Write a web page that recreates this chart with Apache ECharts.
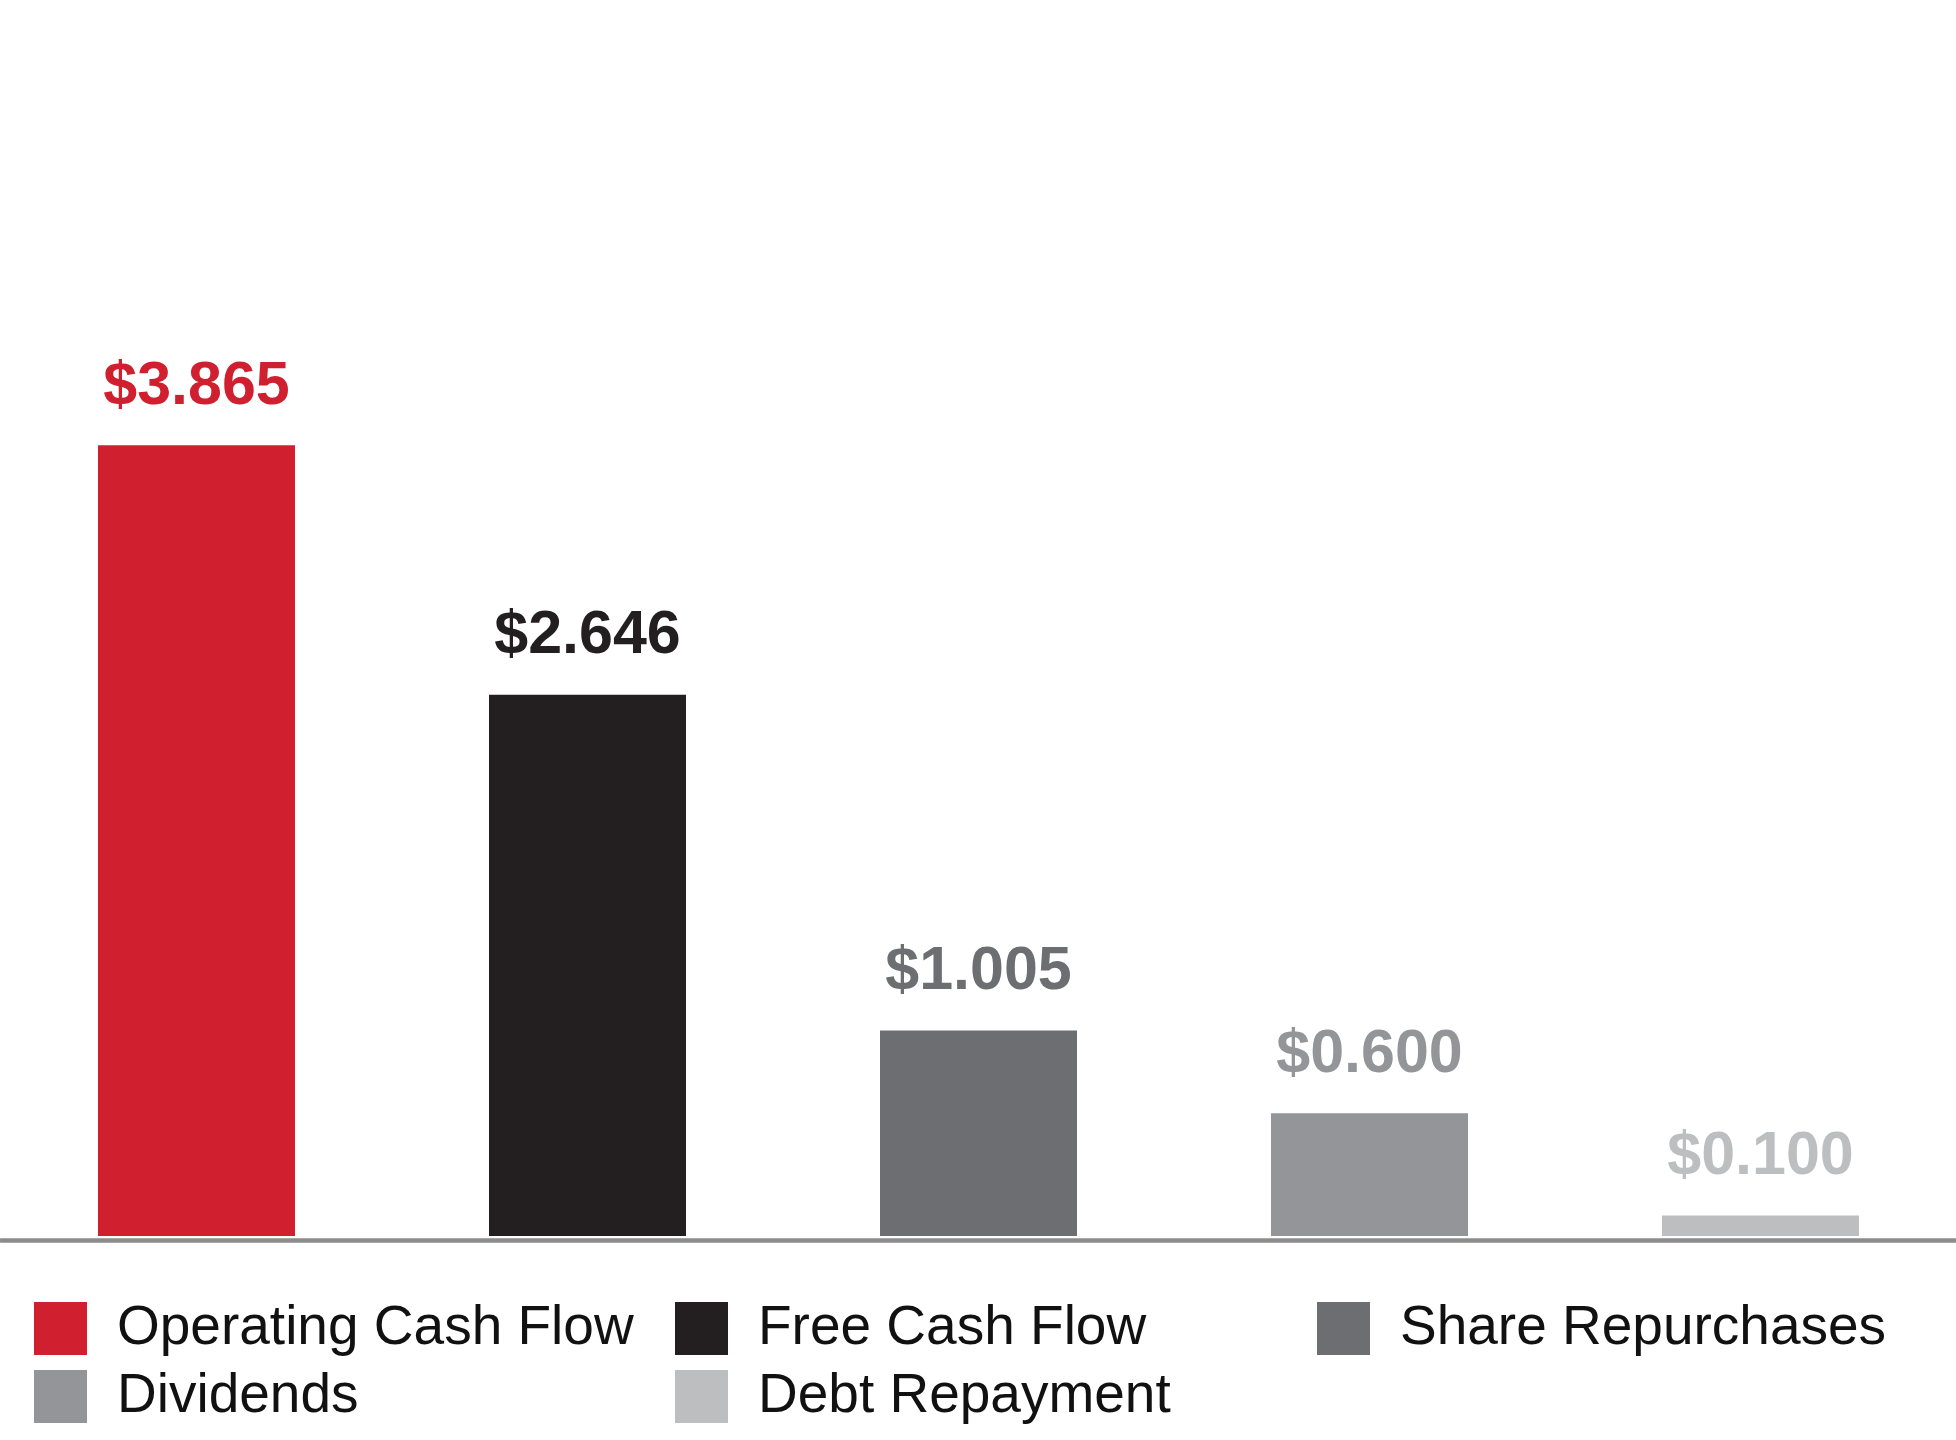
<!DOCTYPE html>
<html>
<head>
<meta charset="utf-8">
<script src="https://cdn.jsdelivr.net/npm/echarts@6/dist/echarts.min.js"></script>
<style>html,body{margin:0;padding:0;background:#fff;}#c{width:1956px;height:1440px;}</style>
</head>
<body>
<div id="c"></div>
<script>
const categories = ['Operating Cash Flow', 'Free Cash Flow', 'Share Repurchases', 'Dividends', 'Debt Repayment'];
const values = [3.865, 2.646, 1.005, 0.600, 0.100];
const colors = ['#D01F2F', '#231F20', '#6D6E71', '#939598', '#BCBEC0'];

const chart = echarts.init(document.getElementById('c'));
const series = categories.map((name, i) => ({
  name: name,
  type: 'bar',
  stack: 'all',
  barWidth: 197,
  itemStyle: { color: colors[i] },
  label: {
    show: true,
    position: 'top',
    distance: 28,
    formatter: p => '$' + p.value.toFixed(3),
    color: colors[i],
    fontFamily: 'Liberation Sans',
    fontWeight: 'bold',
    fontSize: 61
  },
  data: categories.map((c, j) => j === i ? values[i] : '-')
}));

const legendBase = {
  orient: 'vertical',
  top: 1301,
  padding: 0,
  itemWidth: 53,
  itemHeight: 53,
  itemGap: 13,
  icon: 'rect',
  selectedMode: false,
  textStyle: {
    fontFamily: 'Liberation Sans',
    fontSize: 55,
    color: '#111',
    lineHeight: 45,
    padding: [8, 0, 0, 25]
  }
};

chart.setOption({
  animation: false,
  backgroundColor: '#fff',
  grid: { left: 1, right: 0, top: 213, bottom: 1440 - 1236 },
  xAxis: {
    type: 'category',
    data: categories,
    position: 'bottom',
    offset: 4,
    axisLine: { show: true, onZero: false, lineStyle: { color: '#8C8C8C', width: 4.5 } },
    axisTick: { show: false },
    axisLabel: { show: false }
  },
  yAxis: {
    type: 'value',
    min: 0,
    max: 5,
    show: false,
    splitLine: { show: false }
  },
  legend: [
    Object.assign({}, legendBase, { left: 34, data: [categories[0], categories[3]] }),
    Object.assign({}, legendBase, { left: 675, data: [categories[1], categories[4]] }),
    Object.assign({}, legendBase, { left: 1317, data: [categories[2]] })
  ],
  series: series
});
</script>
</body>
</html>
